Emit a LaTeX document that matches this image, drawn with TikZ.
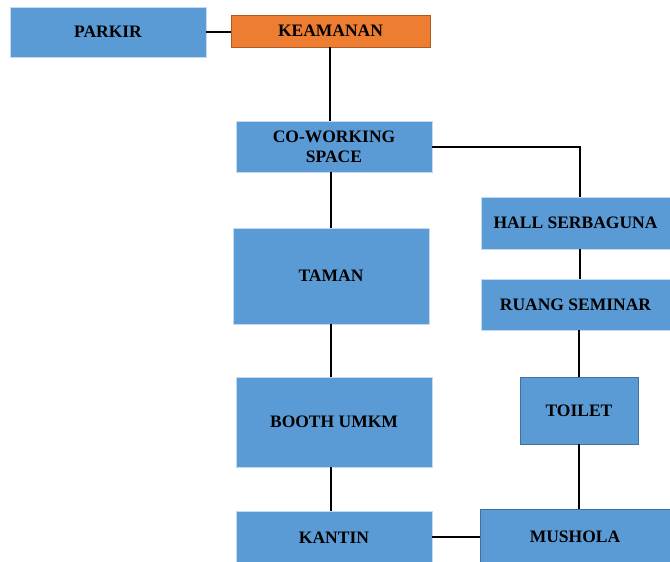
\documentclass[tikz,border=0pt]{standalone}
\usepackage{fontspec}
\setmainfont{Liberation Serif}[BoldFont={Liberation Serif Bold}]
\definecolor{boxblue}{HTML}{5B9BD5}
\definecolor{boxedge}{HTML}{C5DAEF}
\definecolor{darkedge}{HTML}{41719C}
\definecolor{boxorange}{HTML}{ED7D31}
\definecolor{orangeedge}{HTML}{AE5A21}
\tikzset{room/.style={fill=boxblue, draw=boxedge, line width=0.8pt, align=center, inner sep=2pt,
           font=\fontsize{17.5}{20}\selectfont\bfseries},
         link/.style={draw=black, line width=2pt}}

\begin{document}
\begin{tikzpicture}[x=1pt,y=-1pt]
   \useasboundingbox (0,0) rectangle (670,562);
   % left column
   \node[room, minimum width=196pt, minimum height=50pt] (parkir) at (108,32) {PARKIR};
   \node[room, fill=boxorange, draw=orangeedge, minimum width=199pt, minimum height=32pt] (keamanan) at (330.5,31) {KEAMANAN};
   \node[room, minimum width=196pt, minimum height=51pt] (cowork) at (334,146.5) {CO-WORKING\\SPACE};
   \node[room, minimum width=196pt, minimum height=96pt] (taman) at (331,276) {TAMAN};
   \node[room, minimum width=196pt, minimum height=90pt] (booth) at (334,422) {BOOTH UMKM};
   \node[room, minimum width=196pt, minimum height=54pt] (kantin) at (334,538) {KANTIN};
   % right column
   \node[room, minimum width=189pt, minimum height=52pt] (hall) at (575.5,223) {HALL SERBAGUNA};
   \node[room, minimum width=189pt, minimum height=51pt] (ruang) at (575.5,304.5) {RUANG SEMINAR};
   \node[room, draw=darkedge, minimum width=118pt, minimum height=67pt] (toilet) at (579,410.5) {TOILET};
   \node[room, draw=darkedge, minimum width=190pt, minimum height=56pt] (mushola) at (575,537) {MUSHOLA};
   % connectors
   \draw[link] (parkir.east) -- (parkir.east -| keamanan.west);
   \draw[link] ([xshift=-0.5pt]keamanan.south) -- ([xshift=-0.5pt]keamanan.south |- cowork.north);
   \draw[link] (cowork.east) -| ([xshift=4.5pt]hall.north);
   \draw[link] (cowork.south -| taman.north) -- (taman.north);
   \draw[link] (taman.south) -- (taman.south |- booth.north);
   \draw[link] (booth.south -| taman.south) -- (kantin.north -| taman.south);
   \draw[link] (kantin.east |- mushola.west) -- (mushola.west);
   \draw[link] ([xshift=4.5pt]hall.south) -- ([xshift=4.5pt]ruang.north);
   \draw[link] (ruang.south -| toilet.north) -- (toilet.north);
   \draw[link] (toilet.south) -- (toilet.south |- mushola.north);
\end{tikzpicture}
\end{document}
